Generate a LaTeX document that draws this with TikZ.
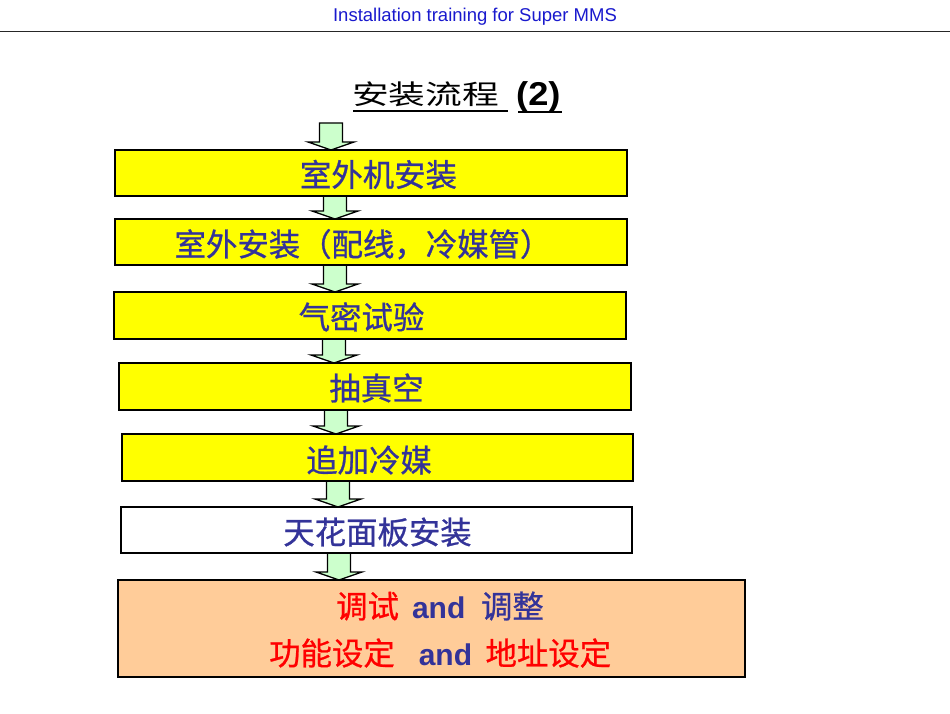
\documentclass[tikz,border=0pt]{standalone}
\usepackage{fontspec}
\usepackage{graphicx}
\setmainfont{Liberation Sans}
\newfontfamily\cjk{Noto Sans CJK SC}
\newfontfamily\cjkbox[FakeBold=0.8]{Noto Sans CJK SC}
\usetikzlibrary{calc,backgrounds}
\definecolor{txtblue}{RGB}{51,51,153}
\definecolor{hdrblue}{RGB}{25,25,205}
\definecolor{boxyellow}{RGB}{255,255,0}
\definecolor{boxpeach}{RGB}{255,204,153}
\definecolor{arrgreen}{RGB}{204,255,204}
\tikzset{
 flowbox/.style={draw=black, line width=2pt, fill=boxyellow, inner sep=0pt, outer sep=0pt, anchor=north west},
 boxtext/.style={anchor=base, inner sep=0pt, font=\cjkbox\fontsize{31.4}{34}\selectfont, text=txtblue},
 linetext/.style={anchor=base west, inner sep=0pt, font=\cjkbox\fontsize{31.4}{34}\selectfont},
 arr/.style={draw=black, line width=1.3pt, fill=arrgreen, line join=miter},
}
\newcommand\flowarrow[3]{%
 \draw[arr] let \p1=(#2), \p2=(#3) in
 (#1pt-11.5pt,\y1) -- (#1pt+11.5pt,\y1) -- (#1pt+11.5pt,\y2+8pt) -- (#1pt+23pt,\y2+8pt) -- (#1pt,\y2) -- (#1pt-23pt,\y2+8pt) -- (#1pt-11.5pt,\y2+8pt) -- cycle;}
\newcommand\andword{{\fontspec{Liberation Sans}\bfseries\fontsize{30}{32}\selectfont and}}
\begin{document}
\begin{tikzpicture}[x=1pt,y=1pt]
\useasboundingbox (0,0) rectangle (950,713);
% header
\node[anchor=base, inner sep=0pt, text=hdrblue, font=\fontsize{18.5}{20}\selectfont] (hdr) at (475,691) {Installation training for Super MMS};
\draw[line width=1pt, black!85] (0,681) -- (950,681);
% title
\node[anchor=base west, inner sep=0pt] (title) at (352,608.7) {\cjk\fontsize{27}{30}\selectfont\scalebox{1.36}[1]{安装流程}};
\node[anchor=base west, inner sep=0pt] (num) at (516,607) {\bfseries\fontsize{33}{36}\selectfont\scalebox{1.1}[1]{(2)}};
\draw[line width=1.5pt] (353,602) -- (508,602);
\draw[line width=1.5pt] (518,601) -- (562,601);
% boxes
\node[flowbox, minimum width=512pt, minimum height=46pt] (b1) at (115,563) {};
\node[flowbox, minimum width=512pt, minimum height=46pt] (b2) at (115,494) {};
\node[flowbox, minimum width=512pt, minimum height=47pt] (b3) at (114,421) {};
\node[flowbox, minimum width=512pt, minimum height=47pt] (b4) at (119,350) {};
\node[flowbox, minimum width=511pt, minimum height=47pt] (b5) at (122,279) {};
\node[flowbox, fill=white, minimum width=511pt, minimum height=46pt] (b6) at (121,206) {};
\node[flowbox, fill=boxpeach, minimum width=627pt, minimum height=97pt] (b7) at (118,133) {};
% texts
\node[boxtext] (t1) at (378.5,526.5) {室外机安装};
\node[boxtext] (t2) at (363,457) {室外安装（配线，冷媒管）};
\node[boxtext] (t3) at (361.5,384) {气密试验};
\node[boxtext] (t4) at (376.5,313) {抽真空};
\node[boxtext] (t5) at (369,241) {追加冷媒};
\node[boxtext] (t6) at (377.5,169) {天花面板安装};
\node[linetext] (l1) at (336,95) {\textcolor{red}{调试}\hspace{13pt}\textcolor{txtblue}{\andword}\hspace{15.7pt}\textcolor{txtblue}{调整}};
\node[linetext] (l2) at (269,48) {\textcolor{red}{功能设定}\hspace{24pt}\textcolor{txtblue}{\andword}\hspace{13.4pt}\textcolor{red}{地址设定}};
% arrows
\coordinate (s0) at (331,590);
\begin{scope}[on background layer]
\flowarrow{331}{s0}{b1.north}
\flowarrow{335}{b1.south}{b2.north}
\flowarrow{335}{b2.south}{b3.north}
\flowarrow{334}{b3.south}{b4.north}
\flowarrow{336}{b4.south}{b5.north}
\flowarrow{338}{b5.south}{b6.north}
\flowarrow{339}{b6.south}{b7.north}
\end{scope}
\end{tikzpicture}
\end{document}
